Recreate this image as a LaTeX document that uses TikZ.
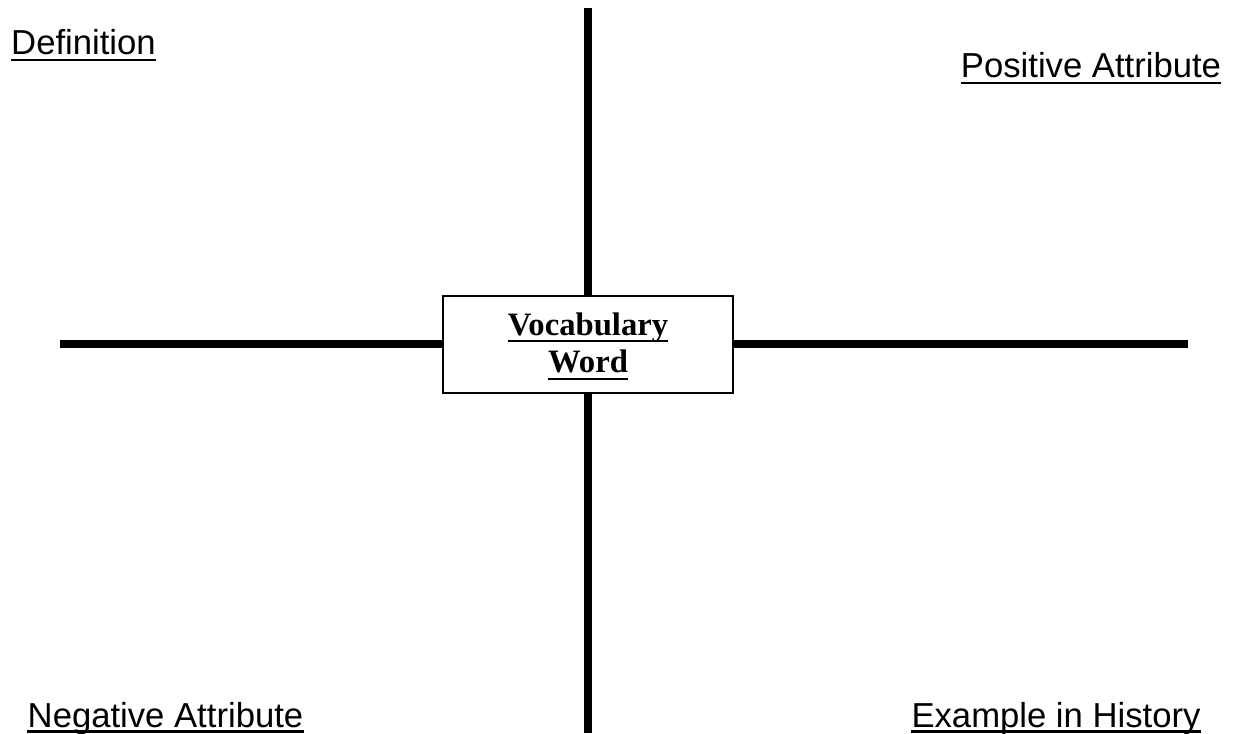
\documentclass[tikz,border=0pt]{standalone}
\usepackage{fontspec}
\newfontfamily\labelfont{Liberation Sans}
\newfontfamily\wordfont{Liberation Serif}
\begin{document}
\begin{tikzpicture}[x=0.75pt, y=-0.75pt,
    axis/.style={line width=6pt},
    corner/.style={inner sep=0pt, anchor=base, font=\labelfont\fontsize{26pt}{30pt}\selectfont},
    wordtext/.style={inner sep=0pt, anchor=base, font=\wordfont\bfseries\fontsize{24.5pt}{28pt}\selectfont},
    uline/.style={line width=1.6pt}]

    \useasboundingbox (0,0) rectangle (1238,733);

    % centre box
    \node[  draw,
            rectangle,
            line width=1.5pt,
            inner sep=0pt,
            minimum width=217.5pt,
            minimum height=72.75pt] (vw) at (588, 344)
            { };

    \coordinate (top) at (588, 8);
    \coordinate (bottom) at (588, 733);
    \coordinate (left) at (60, 344);
    \coordinate (right) at (1188, 344);

    \draw[axis] (vw.north) -- (top);
    \draw[axis] (vw.south) -- (bottom);
    \draw[axis] (vw.west) -- (left);
    \draw[axis] (vw.east) -- (right);

    \node[wordtext] (voc) at (588, 335) {Vocabulary};
    \node[wordtext] (word) at (588, 372) {Word};
    \draw[line width=2pt] ([yshift=-4.5pt]voc.base west) -- ([yshift=-4.5pt]voc.base east);
    \draw[line width=2pt] ([yshift=-5.2pt]word.base west) -- ([yshift=-5.2pt]word.base east);

    % corner labels
    \node[corner] (def) at (83.5, 54) {Definition};
    \node[corner] (pos) at (1091, 77) {Positive Attribute};
    \node[corner] (neg) at (165.5, 727) {Negative Attribute};
    \node[corner] (hist) at (1056, 727) {Example in History};

    \draw[uline] ([yshift=-4.5pt]def.base west) -- ([yshift=-4.5pt]def.base east);
    \draw[uline] ([yshift=-4.5pt]pos.base west) -- ([yshift=-4.5pt]pos.base east);
    \draw[uline] ([yshift=-3.4pt]neg.base west) -- ([yshift=-3.4pt]neg.base east);
    \draw[uline] ([yshift=-3.4pt]hist.base west) -- ([yshift=-3.4pt]hist.base east);

\end{tikzpicture}
\end{document}
